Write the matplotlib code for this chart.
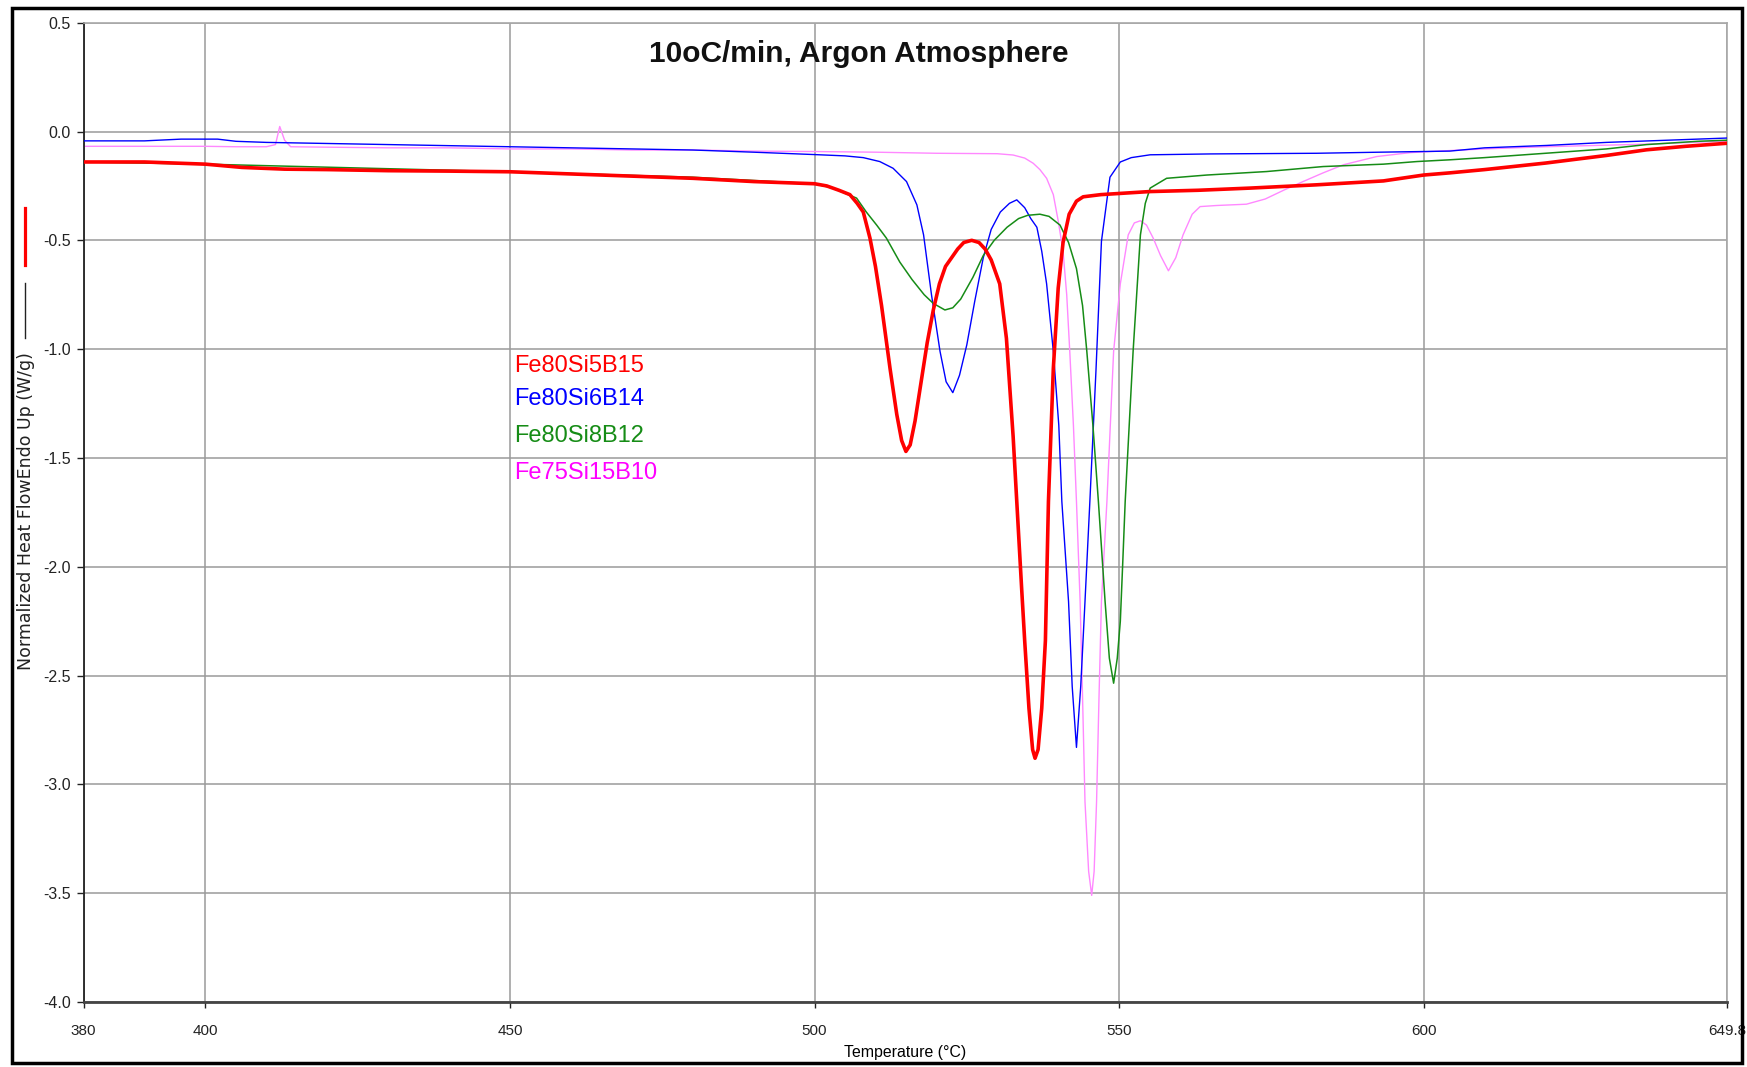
import matplotlib
matplotlib.use("Agg")
import matplotlib.pyplot as plt
from matplotlib.lines import Line2D
from matplotlib.patches import Rectangle

# ---------------- data ----------------
labels = ["Fe80Si5B15", "Fe80Si6B14", "Fe80Si8B12", "Fe75Si15B10"]
line_colors = ["#FF0000", "#0000FF", "#168C16", "#FF88FF"]
text_colors = ["#FF0000", "#0000FF", "#168C16", "#FF00FF"]

t_red = [380, 390, 400, 406, 413, 420, 430, 440, 450, 460, 470, 480, 490, 495, 500,
         502, 504, 505.8, 507, 508, 509.1, 510, 511, 512.4, 513.5, 514.3, 515.0,
         515.7, 516.5, 517.5, 518.5, 519.5, 520.5, 521.5, 522.5, 523.5, 524.5, 525.8,
         527, 528, 529, 530.4, 531.5, 532.6, 533.2, 534.0, 534.5, 535.2, 535.8, 536.2,
         536.7, 537.3, 537.9, 538.4, 539.2, 540, 540.8, 541.8, 543, 544.1, 547, 555,
         563, 571.5, 582.4, 593.4, 600, 604.3, 610, 620, 630, 636.6, 643, 649.8]
v_red = [-0.14, -0.14, -0.15, -0.165, -0.173, -0.175, -0.18, -0.182, -0.185, -0.195,
         -0.205, -0.215, -0.23, -0.235, -0.24, -0.25, -0.27, -0.29, -0.33, -0.37,
         -0.49, -0.62, -0.80, -1.09, -1.30, -1.42, -1.47, -1.44, -1.33, -1.15, -0.97,
         -0.82, -0.70, -0.62, -0.58, -0.54, -0.51, -0.50, -0.51, -0.54, -0.59, -0.70,
         -0.95, -1.40, -1.70, -2.10, -2.34, -2.65, -2.84, -2.88, -2.84, -2.65, -2.34,
         -1.70, -1.09, -0.72, -0.51, -0.38, -0.32, -0.30, -0.29, -0.276, -0.27,
         -0.26, -0.245, -0.227, -0.20, -0.19, -0.175, -0.145, -0.11, -0.084, -0.068,
         -0.054]

t_blue = [380, 390, 396, 402, 405, 410, 420, 430, 440, 450, 460, 470, 480, 490, 500,
          505, 508, 510.7, 512.9, 515.1, 516.8, 517.9, 519.2, 520.6, 521.6, 522.7,
          523.8, 525, 526.3, 527.7, 529, 530.5, 532, 533.2, 534.5, 535.5, 536.5, 537.3,
          538.1, 539.2, 540.1, 540.6, 541.7, 542.3, 543.0, 543.7, 544.4, 545.2, 546.2,
          547.1, 548.5, 550.2, 552, 555.1, 565, 582.4, 592.8, 604.3, 610, 620.2, 630,
          640, 649.8]
v_blue = [-0.043, -0.043, -0.035, -0.035, -0.045, -0.05, -0.055, -0.06, -0.065, -0.07,
          -0.075, -0.08, -0.085, -0.095, -0.106, -0.112, -0.12, -0.138, -0.169, -0.23,
          -0.337, -0.475, -0.75, -1.01, -1.15, -1.20, -1.12, -0.98, -0.78, -0.58,
          -0.45, -0.37, -0.33, -0.314, -0.35, -0.40, -0.44, -0.55, -0.70, -1.01, -1.35,
          -1.70, -2.16, -2.55, -2.83, -2.55, -2.16, -1.70, -1.10, -0.505, -0.21, -0.14,
          -0.12, -0.107, -0.103, -0.10, -0.095, -0.09, -0.075, -0.064, -0.05, -0.04,
          -0.03]

t_green = [380, 400, 450, 480, 500, 503, 506.9, 508.5, 510.2, 511.8, 514.0, 516, 518,
           519.5, 521.4, 522.7, 524.0, 526, 527.7, 529.5, 531.6, 533.5, 535, 537.0,
           538.5, 540.3, 541.7, 543.0, 544, 544.7, 545.7, 546.6, 547.7, 548.4, 549.1,
           549.7, 550.2, 550.6, 551.0, 552.3, 553.5, 554.3, 555.1, 557.8, 564.4, 574.2,
           583.5, 593.4, 598.9, 604.3, 610, 620, 630, 636.6, 645, 649.8]
v_green = [-0.14, -0.15, -0.185, -0.21, -0.24, -0.26, -0.306, -0.37, -0.43, -0.49,
           -0.60, -0.68, -0.75, -0.79, -0.82, -0.81, -0.77, -0.67, -0.57, -0.50, -0.44,
           -0.40, -0.385, -0.38, -0.39, -0.43, -0.51, -0.63, -0.80, -1.01, -1.35, -1.70,
           -2.16, -2.42, -2.535, -2.42, -2.25, -1.98, -1.70, -1.01, -0.475, -0.33,
           -0.26, -0.215, -0.20, -0.184, -0.161, -0.15, -0.138, -0.13, -0.12, -0.10,
           -0.08, -0.06, -0.045, -0.04]

t_pink = [380, 390, 400, 405, 410, 411.5, 412.2, 413, 414, 420, 430, 440, 450, 460,
          470, 480, 490, 500, 510, 520, 530, 532.6, 534.5, 535.9, 537.0, 538.1, 539.2,
          540.0, 540.8, 541.4, 541.9, 542.5, 543.0, 543.6, 544.0, 544.4, 545.0, 545.5,
          545.9, 546.3, 546.7, 547.1, 548.0, 549.1, 550.2, 551.5, 552.5, 553.5, 554.5,
          555.6, 556.8, 558.1, 559.3, 560.5, 562.0, 563.3, 566.0, 570.9, 574, 577.0,
          580.2, 583.5, 586.8, 592.3, 597.8, 603.2, 610, 620, 636.6, 649.8]
v_pink = [-0.068, -0.068, -0.068, -0.07, -0.07, -0.06, 0.023, -0.04, -0.07, -0.072,
          -0.075, -0.075, -0.08, -0.08, -0.085, -0.085, -0.09, -0.092, -0.095, -0.10,
          -0.102, -0.108, -0.122, -0.146, -0.175, -0.215, -0.29, -0.41, -0.55, -0.75,
          -1.01, -1.35, -1.70, -2.16, -2.60, -3.08, -3.40, -3.51, -3.40, -3.08, -2.60,
          -2.16, -1.70, -1.01, -0.70, -0.475, -0.42, -0.41, -0.43, -0.49, -0.57, -0.64,
          -0.58, -0.475, -0.38, -0.345, -0.34, -0.334, -0.31, -0.27, -0.23, -0.19,
          -0.153, -0.115, -0.097, -0.089, -0.08, -0.07, -0.058, -0.044]

x_ticks = [380, 400, 450, 500, 550, 600, 649.8]
x_ticklabels = ["380", "400", "450", "500", "550", "600", "649.8"]
y_ticks = [0.5, 0.0, -0.5, -1.0, -1.5, -2.0, -2.5, -3.0, -3.5, -4.0]

title = "10oC/min, Argon Atmosphere"
xlabel = "Temperature (°C)"
ylabel = "Normalized Heat FlowEndo Up (W/g)"

# ---------------- figure ----------------
W, H = 1747, 1067
fig = plt.figure(figsize=(W / 100, H / 100), dpi=100)
plt.rcParams['font.family'] = ['Liberation Sans', 'DejaVu Sans']

def fx(px):
    return px / W

def fy(py):
    return 1 - py / H

left, right, top, bottom = 83.6, 1727, 22.7, 1002
ax = fig.add_axes([fx(left), fy(bottom), fx(right) - fx(left), fy(top) - fy(bottom)])

series = [(t_red, v_red), (t_blue, v_blue), (t_green, v_green), (t_pink, v_pink)]
widths = [2.6, 1.0, 1.1, 1.0]
zs = [5, 3, 4, 2]
for i, (t, v) in enumerate(series):
    ax.plot(t, v, color=line_colors[i], lw=widths[i], zorder=zs[i])

ax.set_xlim(380, 649.8)
ax.set_ylim(-4.0, 0.5)
ax.set_xticks(x_ticks)
ax.set_xticklabels(x_ticklabels)
ax.set_yticks(y_ticks)
ax.set_yticklabels([f"{v:.1f}" for v in y_ticks])
ax.grid(True, color="#9a9a9a", lw=1.1)
ax.set_axisbelow(True)
for s in ["top", "right"]:
    ax.spines[s].set_color("#a8a8a8")
    ax.spines[s].set_linewidth(1.2)
ax.spines["left"].set_color("#222222")
ax.spines["left"].set_linewidth(1.3)
ax.spines["bottom"].set_color("#444444")
ax.spines["bottom"].set_linewidth(2.0)
ax.tick_params(axis="y", length=5, width=1, pad=4, labelsize=11.5, colors="#222222")
ax.tick_params(axis="x", length=4, width=1, pad=11.5, labelsize=11, colors="#222222")

ax.set_xlabel(xlabel, fontsize=11.4, labelpad=5.5)

# title inside the plot
fig.text(fx(859), fy(53.5), title, ha="center", va="center", fontsize=21.5,
         fontweight="bold", color="#111111")

# y label with legend-like line markers
fig.text(fx(26), fy(511), ylabel, rotation=90, ha="center", va="center",
         fontsize=12.5, color="#222222", family="DejaVu Sans")
fig.add_artist(Line2D([fx(24.5), fx(24.5)], [fy(208), fy(265)], color="#FF0000",
                      lw=2.3, transform=fig.transFigure))
fig.add_artist(Line2D([fx(24.5), fx(24.5)], [fy(283), fy(338)], color="#222222",
                      lw=1.0, transform=fig.transFigure))

# colored series labels
label_y = [365.5, 399, 435.6, 473.5]
for lab, c, py in zip(labels, text_colors, label_y):
    fig.text(fx(514), fy(py), lab, color=c, fontsize=17, ha="left", va="center")

# outer black frame
fig.add_artist(Rectangle((fx(12), fy(1063)), fx(1742) - fx(12), fy(8) - fy(1063),
                         fill=False, edgecolor="black", lw=2.5,
                         transform=fig.transFigure))

fig.savefig("out.png", dpi=100)
